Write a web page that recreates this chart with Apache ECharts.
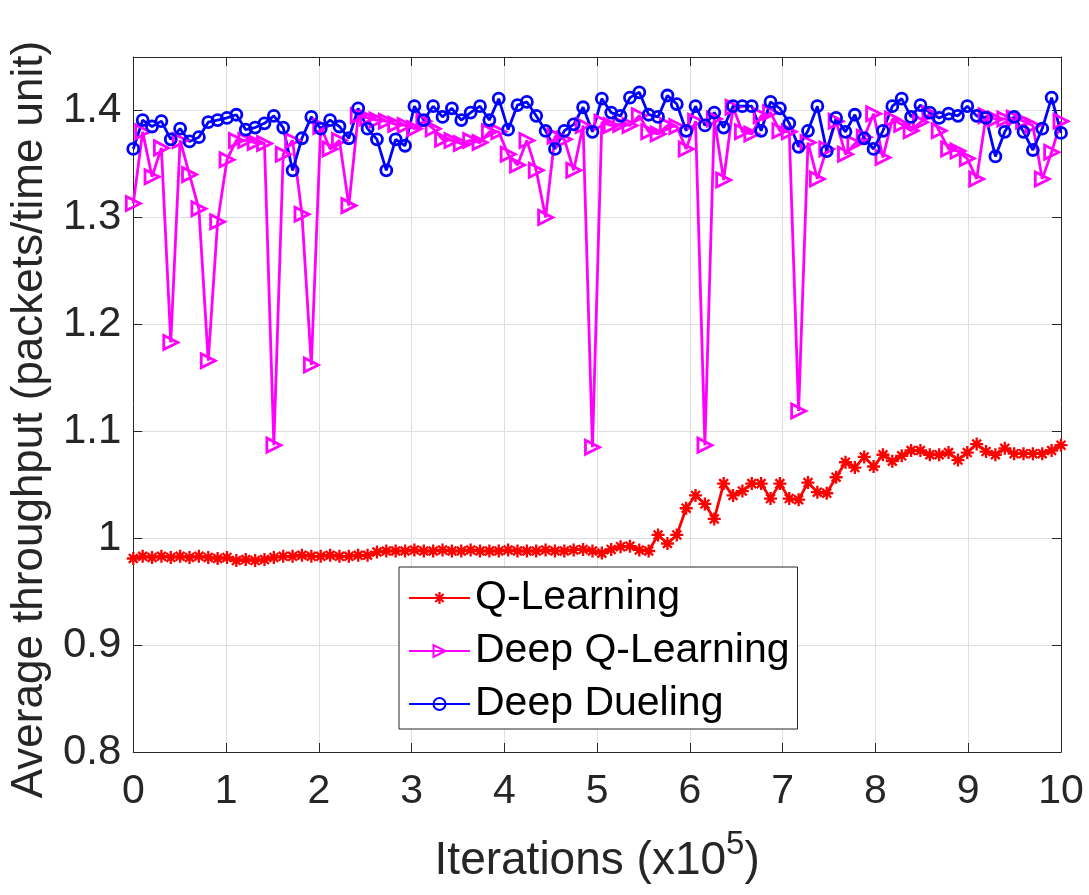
<!DOCTYPE html>
<html>
<head>
<meta charset="utf-8">
<script src="https://cdn.jsdelivr.net/npm/echarts@6.0.0/dist/echarts.min.js"></script>
<style>
html, body { margin: 0; padding: 0; background: #fff; }
#chart { width: 1089px; height: 895px; }
</style>
</head>
<body>
<div id="chart"></div>
<script>
// values, 100 samples each over 0..10 (x10^5 iterations)
const seriesNames = ['Q-Learning', 'Deep Q-Learning', 'Deep Dueling'];

const qLearning = [
    0.981, 0.983, 0.982, 0.983, 0.982, 0.983, 0.982, 0.983, 0.982, 0.981,
    0.982, 0.979, 0.980, 0.979, 0.980, 0.982, 0.983, 0.983, 0.984, 0.983,
    0.983, 0.984, 0.983, 0.983, 0.984, 0.984, 0.987, 0.988, 0.988, 0.988,
    0.989, 0.988, 0.988, 0.989, 0.988, 0.988, 0.989, 0.988, 0.988, 0.988,
    0.989, 0.988, 0.988, 0.988, 0.989, 0.988, 0.988, 0.989, 0.9895, 0.988,
    0.986, 0.9895, 0.992, 0.9925, 0.989, 0.988, 1.003, 0.995, 1.003, 1.028,
    1.040, 1.032, 1.018, 1.051, 1.040, 1.044, 1.051, 1.051, 1.037, 1.051,
    1.037, 1.036, 1.052, 1.043, 1.042, 1.057, 1.071, 1.066, 1.076, 1.067,
    1.078, 1.072, 1.077, 1.082, 1.082, 1.078, 1.078, 1.080, 1.073, 1.080,
    1.088, 1.081, 1.078, 1.084, 1.079, 1.079, 1.079, 1.079, 1.082, 1.087
];

const deepQLearning = [
    1.313, 1.380, 1.338, 1.365, 1.183, 1.372, 1.340, 1.308, 1.166, 1.296,
    1.354, 1.372, 1.372, 1.370, 1.369, 1.087, 1.359, 1.372, 1.303, 1.162,
    1.385, 1.364, 1.372, 1.311, 1.395, 1.393, 1.391, 1.390, 1.387, 1.386,
    1.383, 1.390, 1.383, 1.373, 1.372, 1.369, 1.372, 1.370, 1.380, 1.380,
    1.359, 1.349, 1.372, 1.344, 1.300, 1.376, 1.373, 1.344, 1.386, 1.085,
    1.389, 1.386, 1.387, 1.386, 1.395, 1.380, 1.378, 1.386, 1.385, 1.364,
    1.390, 1.087, 1.392, 1.335, 1.403, 1.380, 1.378, 1.395, 1.398, 1.381,
    1.380, 1.119, 1.370, 1.336, 1.364, 1.390, 1.359, 1.369, 1.375, 1.397,
    1.356, 1.392, 1.387, 1.381, 1.389, 1.397, 1.381, 1.364, 1.362, 1.355,
    1.336, 1.395, 1.392, 1.392, 1.393, 1.390, 1.386, 1.336, 1.361, 1.390
];

const deepDueling = [
    1.364, 1.391, 1.385, 1.390, 1.373, 1.383, 1.371, 1.375, 1.389, 1.391,
    1.393, 1.396, 1.382, 1.384, 1.388, 1.395, 1.384, 1.344, 1.374, 1.394,
    1.383, 1.391, 1.385, 1.374, 1.402, 1.383, 1.373, 1.344, 1.373, 1.367,
    1.404, 1.391, 1.404, 1.394, 1.402, 1.391, 1.398, 1.404, 1.391, 1.411,
    1.382, 1.405, 1.408, 1.395, 1.381, 1.364, 1.381, 1.387, 1.403, 1.380,
    1.411, 1.398, 1.395, 1.412, 1.417, 1.396, 1.394, 1.414, 1.406, 1.381,
    1.404, 1.386, 1.398, 1.384, 1.404, 1.404, 1.404, 1.381, 1.408, 1.402,
    1.388, 1.366, 1.381, 1.404, 1.362, 1.393, 1.380, 1.396, 1.374, 1.364,
    1.381, 1.404, 1.411, 1.394, 1.405, 1.398, 1.393, 1.397, 1.395, 1.404,
    1.395, 1.393, 1.357, 1.380, 1.394, 1.380, 1.363, 1.383, 1.412, 1.379
];

const iterations = qLearning.map((_, i) => i * 10 / (qLearning.length - 1));

const font = "'Liberation Sans', Arial, sans-serif";
const axisColor = '#262626';
const gridColor = '#dedede';
// MATLAB style '*' marker
const asterisk = 'path://M0,4.1H10V5.9H0Z M4.1,0H5.9V10H4.1Z M0.96,2.23L2.23,0.96L9.04,7.77L7.77,9.04Z M7.77,0.96L9.04,2.23L2.23,9.04L0.96,7.77Z';

const toPairs = (vals) => vals.map((v, i) => [iterations[i], v]);

let chart = echarts.init(document.getElementById('chart'), null, {renderer: 'canvas'});

const boxAxis = {
    axisLine: { show: true, onZero: false, lineStyle: { color: axisColor, width: 1 } },
    axisTick: { show: true, inside: true, length: 9, lineStyle: { color: axisColor } },
    axisLabel: { show: false },
    splitLine: { show: false }
};

let option = {
    animation: false,
    backgroundColor: '#fff',
    grid: { left: 131, right: 28, top: 57, bottom: 143 },
    legend: {
        orient: 'vertical',
        left: 399,
        top: 567,
        padding: [8, 8, 2, 9],
        itemWidth: 61,
        itemHeight: 15,
        itemGap: 7,
        backgroundColor: '#fff',
        borderColor: axisColor,
        borderWidth: 1,
        borderRadius: 0,
        textStyle: { fontFamily: font, fontSize: 41, color: '#000', lineHeight: 46 },
        data: seriesNames
    },
    xAxis: [
        {
            type: 'value', min: 0, max: 10, interval: 1, position: 'bottom',
            axisLine: { show: true, onZero: false, lineStyle: { color: axisColor, width: 1 } },
            axisTick: { show: true, inside: true, length: 9, lineStyle: { color: axisColor } },
            axisLabel: { fontFamily: font, fontSize: 41, color: axisColor, margin: 19 },
            splitLine: { show: true, lineStyle: { color: gridColor, width: 1 } },
            name: '{a|Iterations (x10}{s|5}{a|)}',
            nameLocation: 'middle',
            nameGap: 76,
            nameTextStyle: {
                rich: {
                    a: { fontFamily: font, fontSize: 46, color: axisColor, lineHeight: 56, verticalAlign: 'bottom' },
                    s: { fontFamily: font, fontSize: 33, color: axisColor, lineHeight: 33, verticalAlign: 'top' }
                }
            }
        },
        Object.assign({ type: 'value', min: 0, max: 10, interval: 1, position: 'top' }, boxAxis)
    ],
    yAxis: [
        {
            type: 'value', min: 0.8, max: 1.45, interval: 0.1, position: 'left',
            axisLine: { show: true, onZero: false, lineStyle: { color: axisColor, width: 1 } },
            axisTick: { show: true, inside: true, length: 9, lineStyle: { color: axisColor } },
            axisLabel: {
                fontFamily: font, fontSize: 42, color: axisColor, margin: 12,
                formatter: v => (Math.abs(v * 10 - Math.round(v * 10)) < 1e-6 ? String(+v.toFixed(1)) : '')
            },
            splitLine: { show: true, lineStyle: { color: gridColor, width: 1 } },
            name: 'Average throughput (packets/time unit)',
            nameLocation: 'middle',
            nameGap: 76,
            nameTextStyle: { fontFamily: font, fontSize: 44, color: axisColor, padding: [0, 30, 0, 0] }
        },
        Object.assign({ type: 'value', min: 0.8, max: 1.45, interval: 0.1, position: 'right' }, boxAxis)
    ],
    series: [
        {
            name: seriesNames[0],
            type: 'line',
            data: toPairs(qLearning),
            symbol: asterisk,
            symbolSize: 13,
            showAllSymbol: true,
            lineStyle: { color: '#ff0000', width: 2.8 },
            itemStyle: { color: '#ff0000' },
            emphasis: { disabled: true }
        },
        {
            name: seriesNames[1],
            type: 'line',
            data: toPairs(deepQLearning),
            symbol: 'triangle',
            symbolRotate: -90,
            symbolSize: 14,
            showAllSymbol: true,
            lineStyle: { color: '#ff00ff', width: 2.8 },
            itemStyle: { color: 'transparent', borderColor: '#ff00ff', borderWidth: 2.8 },
            emphasis: { disabled: true }
        },
        {
            name: seriesNames[2],
            type: 'line',
            data: toPairs(deepDueling),
            symbol: 'circle',
            symbolSize: 11,
            showAllSymbol: true,
            lineStyle: { color: '#0000ff', width: 2.8 },
            itemStyle: { color: 'transparent', borderColor: '#0000ff', borderWidth: 2.8 },
            emphasis: { disabled: true }
        }
    ]
};

option && chart.setOption(option);
</script>
</body>
</html>
